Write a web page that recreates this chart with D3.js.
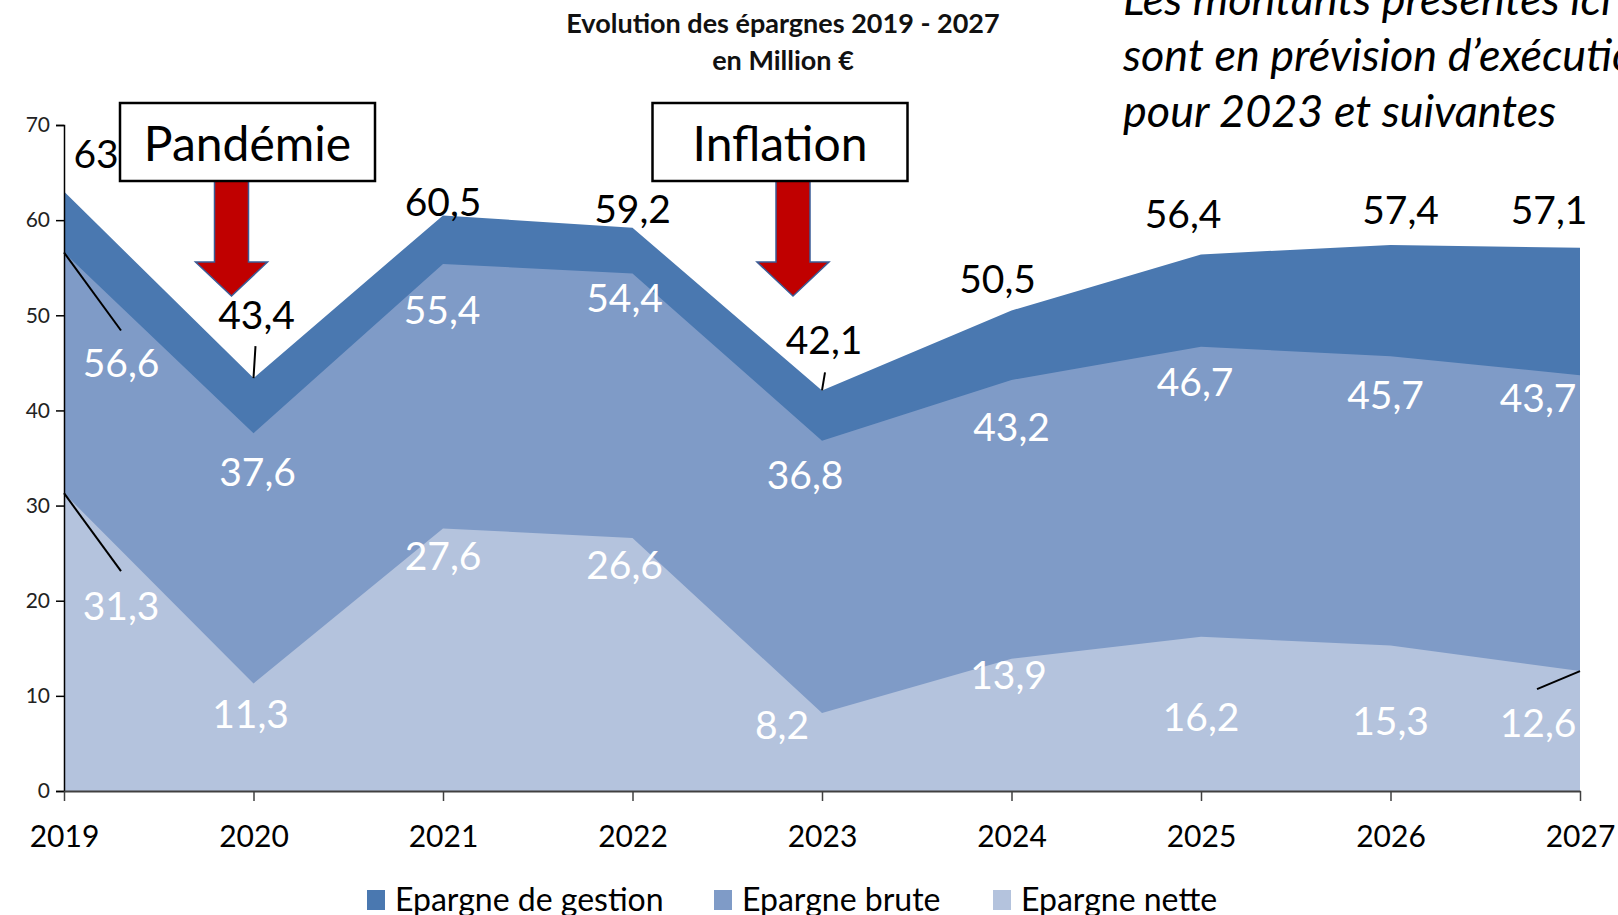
<!DOCTYPE html>
<html>
<head>
<meta charset="utf-8">
<script src="https://cdn.jsdelivr.net/npm/d3@7"></script>
<style>
    html, body { margin: 0; padding: 0; background: #fff; overflow: hidden; }
    svg { display: block; font-family: Lato, "Open Sans", sans-serif; }
</style>
</head>
<body>
<svg id="chart" width="1618" height="915"></svg>
<script>
// values (million €)
const years = ['2019', '2020', '2021', '2022', '2023', '2024', '2025', '2026', '2027']
const epargneGestion = [63, 43.4, 60.5, 59.2, 42.1, 50.5, 56.4, 57.4, 57.1]
const epargneBrute = [56.6, 37.6, 55.4, 54.4, 36.8, 43.2, 46.7, 45.7, 43.7]
const epargneNette = [31.3, 11.3, 27.6, 26.6, 8.2, 13.9, 16.2, 15.3, 12.6]
const seriesNames = ['Epargne de gestion', 'Epargne brute', 'Epargne nette']
const yTicks = [0, 10, 20, 30, 40, 50, 60, 70]

// label placement, [dx, dy] from the data point (baseline, centred)
const gestionOffsets = [[32, -24], [3, -49], [0, 1], [0, -5], [2, -36], [-14, -18], [-18, -26], [10, -21], [-31, -24]]
const bruteOffsets = [[57, 125], [4, 53], [-1, 60], [-8, 39], [-17, 48], [0, 61], [-6, 49], [-5, 53], [-42, 37]]
const netteOffsets = [[57, 127], [-3, 45], [0, 42], [-8, 41], [-40, 26], [-3, 30], [0, 94], [0, 90], [-42, 66]]
// leader lines: [series index, year index, end dx, end dy]
const leaders = [[1, 0, 57, 78], [2, 0, 57, 78], [0, 1, 2, -32], [0, 4, 3, -18], [2, 8, -43, 18]]

const COLORS = ['#4A78B0', '#7F9BC7', '#B4C3DD']

document.addEventListener('DOMContentLoaded', () => {

    const svg = d3.select('#chart')

    const x = d3.scalePoint().domain(years).range([64, 1580])
    const y = d3.scaleLinear().domain([0, 70]).range([791, 125])

    const series = [epargneGestion, epargneBrute, epargneNette]
    const offsets = [gestionOffsets, bruteOffsets, netteOffsets]

    const area = d3.area()
        .x((d, i) => x(years[i]))
        .y0(y(0))
        .y1(d => y(d))

    svg.append('g')
        .selectAll('path')
        .data(series)
        .enter().append('path')
        .attr('d', d => area(d))
        .attr('fill', (d, i) => COLORS[i])

    // y axis
    const yAxis = svg.append('g')
        .attr('transform', 'translate(' + x(years[0]) + ',0)')
        .call(d3.axisLeft(y).tickValues(yTicks).tickSize(8).tickPadding(6))
    yAxis.select('.domain').attr('stroke', '#000').attr('stroke-width', 1.5)
    yAxis.selectAll('.tick line').attr('stroke', '#000').attr('stroke-width', 1.5)
    yAxis.selectAll('text')
        .style('font-family', 'Lato, sans-serif')
        .style('font-size', '21px')
        .attr('fill', '#222')

    // x axis
    const xAxis = svg.append('g')
        .attr('transform', 'translate(0,' + y(0) + ')')
        .call(d3.axisBottom(x).tickSize(10).tickSizeOuter(0).tickPadding(25))
    xAxis.select('.domain').attr('stroke', '#404040').attr('stroke-width', 2)
    xAxis.selectAll('.tick line').attr('stroke', '#404040').attr('stroke-width', 1.5)
    xAxis.selectAll('text')
        .style('font-family', 'Lato, sans-serif')
        .style('font-size', '30px')
        .attr('fill', '#000')

    // leader lines
    svg.append('g')
        .selectAll('line')
        .data(leaders)
        .enter().append('line')
        .attr('x1', d => x(years[d[1]]))
        .attr('y1', d => y(series[d[0]][d[1]]))
        .attr('x2', d => x(years[d[1]]) + d[2])
        .attr('y2', d => y(series[d[0]][d[1]]) + d[3])
        .attr('stroke', '#000')
        .attr('stroke-width', 2)

    // data labels
    series.forEach((values, s) => {
        svg.append('g')
            .selectAll('text')
            .data(values)
            .enter().append('text')
            .attr('x', (d, i) => x(years[i]) + offsets[s][i][0])
            .attr('y', (d, i) => y(d) + offsets[s][i][1])
            .attr('text-anchor', 'middle')
            .attr('font-size', 39)
            .attr('fill', s === 0 ? '#000' : '#fff')
            .text(d => String(d).replace('.', ','))
    })

    // title
    const title = svg.append('text')
        .attr('x', 783)
        .attr('text-anchor', 'middle')
        .attr('font-weight', 'bold')
        .attr('font-size', 27)
        .attr('fill', '#111')
    title.append('tspan').attr('x', 783).attr('y', 33).text('Evolution des épargnes 2019 - 2027')
    title.append('tspan').attr('x', 783).attr('y', 70).text('en Million €')

    // note top right
    const note = svg.append('text')
        .attr('font-style', 'italic')
        .attr('font-size', 45)
        .attr('fill', '#000')
    const noteLines = ['Les montants présentés ici', 'sont en prévision d\u2019exécution', 'pour 2023 et suivantes']
    noteLines.forEach((t, i) => {
        note.append('tspan').attr('x', 1123).attr('y', 15 + i * 56).text(t)
    })

    // annotation boxes with arrows
    const annotations = [
        { text: 'Pandémie', year: '2020', boxDx: -6, arrowDx: -22 },
        { text: 'Inflation', year: '2023', boxDx: -42, arrowDx: -29 }
    ]
    const BOX_W = 255, BOX_TOP = 103, BOX_BOTTOM = 181
    const SHAFT_W = 34, HEAD_W = 72, HEAD_TOP = 262, TIP = 296

    annotations.forEach(a => {
        const ac = x(a.year) + a.arrowDx
        svg.append('path')
            .attr('d', 'M' + (ac - SHAFT_W / 2) + ',' + BOX_BOTTOM +
                'L' + (ac + SHAFT_W / 2) + ',' + BOX_BOTTOM +
                'L' + (ac + SHAFT_W / 2) + ',' + HEAD_TOP +
                'L' + (ac + HEAD_W / 2) + ',' + HEAD_TOP +
                'L' + ac + ',' + TIP +
                'L' + (ac - HEAD_W / 2) + ',' + HEAD_TOP +
                'L' + (ac - SHAFT_W / 2) + ',' + HEAD_TOP + 'Z')
            .attr('fill', '#C00000')
            .attr('stroke', '#3A5C96')
            .attr('stroke-width', 1.5)

        const bc = x(a.year) + a.boxDx
        svg.append('rect')
            .attr('x', bc - BOX_W / 2)
            .attr('y', BOX_TOP)
            .attr('width', BOX_W)
            .attr('height', BOX_BOTTOM - BOX_TOP)
            .attr('fill', '#fff')
            .attr('stroke', '#000')
            .attr('stroke-width', 2.5)
        svg.append('text')
            .attr('x', bc)
            .attr('y', 161)
            .attr('text-anchor', 'middle')
            .attr('font-size', 48)
            .attr('fill', '#000')
            .text(a.text)
    })

    // legend
    const legendX = [367, 714, 993]
    const legend = svg.append('g')
        .selectAll('g')
        .data(seriesNames)
        .enter().append('g')
        .attr('transform', (d, i) => 'translate(' + legendX[i] + ',890)')
    legend.append('rect')
        .attr('width', 18)
        .attr('height', 20)
        .attr('fill', (d, i) => COLORS[i])
    legend.append('text')
        .attr('x', 28)
        .attr('y', 21)
        .attr('font-size', 32)
        .attr('fill', '#000')
        .text(d => d)
})
</script>
</body>
</html>
